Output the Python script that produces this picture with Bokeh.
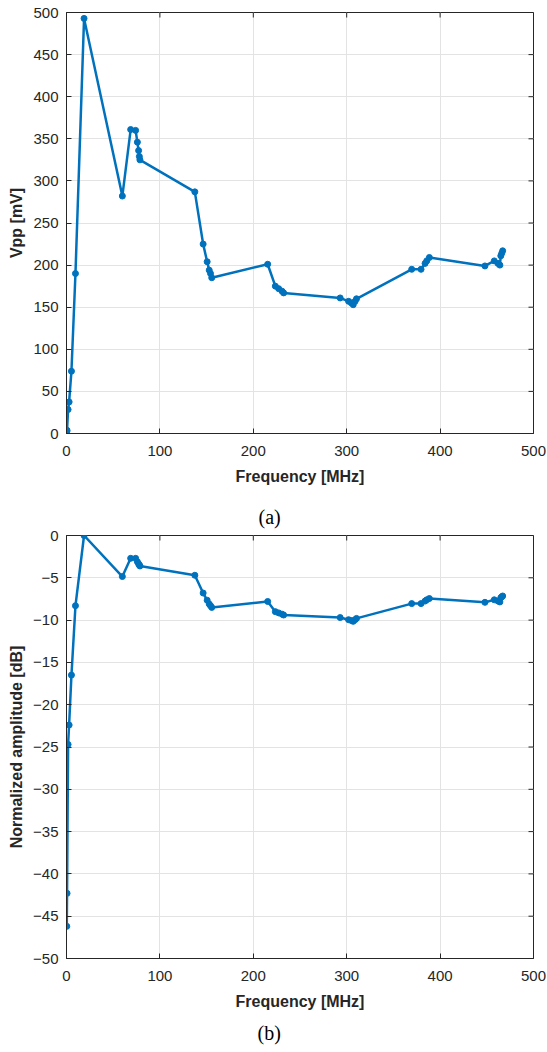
import math
from bokeh.plotting import figure
from bokeh.layouts import column
from bokeh.models import Range1d, FixedTicker, Title, ColumnDataSource
from bokeh.embed import file_html
from bokeh.resources import INLINE

# Frequency points [MHz]
freq_mhz = [0.3, 0.6, 1.7, 2.8, 5.3, 9.6, 18.8, 59.8, 68.7, 74.0, 75.9, 77.2, 78.0, 78.6,
            137.4, 146.3, 150.6, 152.8, 154.2, 155.5, 215.4, 223.6, 227.2, 230.8, 232.5,
            293.0, 302.0, 305.0, 307.0, 309.0, 310.5, 369.6, 379.6, 383.9, 385.7, 388.5,
            448.0, 458.0, 462.0, 464.0, 465.0, 466.0, 467.0]

# (a) Peak-to-peak voltage [mV]
vpp_mv = [2.4, 3.8, 28.5, 37.5, 74, 190, 493, 282, 361, 360, 346, 336, 329, 325,
          287, 225, 204, 194, 190, 185, 201, 175, 172, 169, 167,
          161, 157, 155, 153, 157, 160, 195, 195, 202, 205, 209,
          199, 205, 202, 200, 211, 214, 217]

# (b) Normalized amplitude [dB]
norm_db = [-46.2, -42.3, -24.7, -22.4, -16.5, -8.3, 0.0, -4.85, -2.7, -2.7, -3.1, -3.35, -3.5, -3.6,
           -4.7, -6.8, -7.65, -8.1, -8.3, -8.5, -7.8, -9.0, -9.15, -9.3, -9.4,
           -9.7, -9.95, -10.05, -10.15, -9.95, -9.8, -8.05, -8.05, -7.75, -7.6, -7.45,
           -7.9, -7.6, -7.75, -7.85, -7.35, -7.25, -7.15]

x_ticks = [0, 100, 200, 300, 400, 500]
ya_ticks = [0, 50, 100, 150, 200, 250, 300, 350, 400, 450, 500]
yb_ticks = [0, -5, -10, -15, -20, -25, -30, -35, -40, -45, -50]

BLUE = "#0072BD"
AX = "#262626"
GRID = "#e3e3e3"
SANS = "Liberation Sans"
SERIF = "Liberation Serif"


def style_axis(ax, ticks):
    ax.ticker = FixedTicker(ticks=ticks)
    ax.axis_line_color = AX
    ax.axis_line_width = 1
    ax.major_tick_line_color = AX
    ax.major_tick_in = 5
    ax.major_tick_out = 0
    ax.minor_tick_line_color = None
    ax.major_label_text_font = SANS
    ax.major_label_text_font_size = "15px"
    ax.major_label_text_color = AX
    ax.axis_label_text_font = SANS
    ax.axis_label_text_font_size = "16px"
    ax.axis_label_text_font_style = "bold"
    ax.axis_label_text_color = AX


def caption_title(text, offset, standoff):
    return Title(text=text, align="left", offset=offset, standoff=standoff,
                 text_font=SERIF, text_font_size="20px", text_font_style="normal",
                 text_color="black")


def make_fig(yvals, yr, yticks, ylabel, height, top, bottom, left):
    src = ColumnDataSource(dict(f=freq_mhz, y=yvals))
    p = figure(width=547, height=height, output_backend="svg", toolbar_location=None,
               x_range=Range1d(0, 500), y_range=Range1d(*yr),
               min_border_left=left, min_border_right=14, min_border_top=top,
               min_border_bottom=bottom)
    p.background_fill_color = "white"
    p.border_fill_color = "white"
    p.outline_line_color = AX
    p.outline_line_width = 1
    style_axis(p.xaxis[0], x_ticks)
    style_axis(p.yaxis[0], yticks)
    p.xaxis[0].axis_label = "Frequency [MHz]"
    p.yaxis[0].axis_label = ylabel
    p.xaxis[0].major_label_standoff = 12
    p.yaxis[0].major_label_standoff = 8
    p.xaxis[0].axis_label_standoff = 9
    p.yaxis[0].axis_label_standoff = 5
    p.xgrid.ticker = FixedTicker(ticks=x_ticks)
    p.ygrid.ticker = FixedTicker(ticks=yticks)
    p.xgrid.grid_line_color = GRID
    p.ygrid.grid_line_color = GRID
    # box ticks on top and right edges (pointing inward)
    p.ray(x=x_ticks, y=[yr[1]] * len(x_ticks), length=5, length_units="screen",
          angle=-math.pi / 2, line_color=AX, line_width=1)
    p.ray(x=[500] * len(yticks), y=yticks, length=5, length_units="screen",
          angle=math.pi, line_color=AX, line_width=1)
    p.line("f", "y", source=src, line_color=BLUE, line_width=2.5)
    p.scatter("f", "y", source=src, size=6, fill_color=BLUE, line_color=BLUE)
    return p


p1 = make_fig(vpp_mv, (0, 500), ya_ticks, "Vpp [mV]", 495, 12, 62, 66)
p2 = make_fig(norm_db, (-50, 0), yb_ticks, "Normalized amplitude [dB]", 557, 40, 94, 63)
# sub-figure captions: "(a)" sits under the upper chart, "(b)" under the lower one
p2.add_layout(caption_title("(a)", 192, 16), "above")
p2.add_layout(caption_title("(b)", 191, 14), "below")

layout = column(p1, p2, spacing=0)
open("out.html", "w").write(file_html(layout, INLINE))
